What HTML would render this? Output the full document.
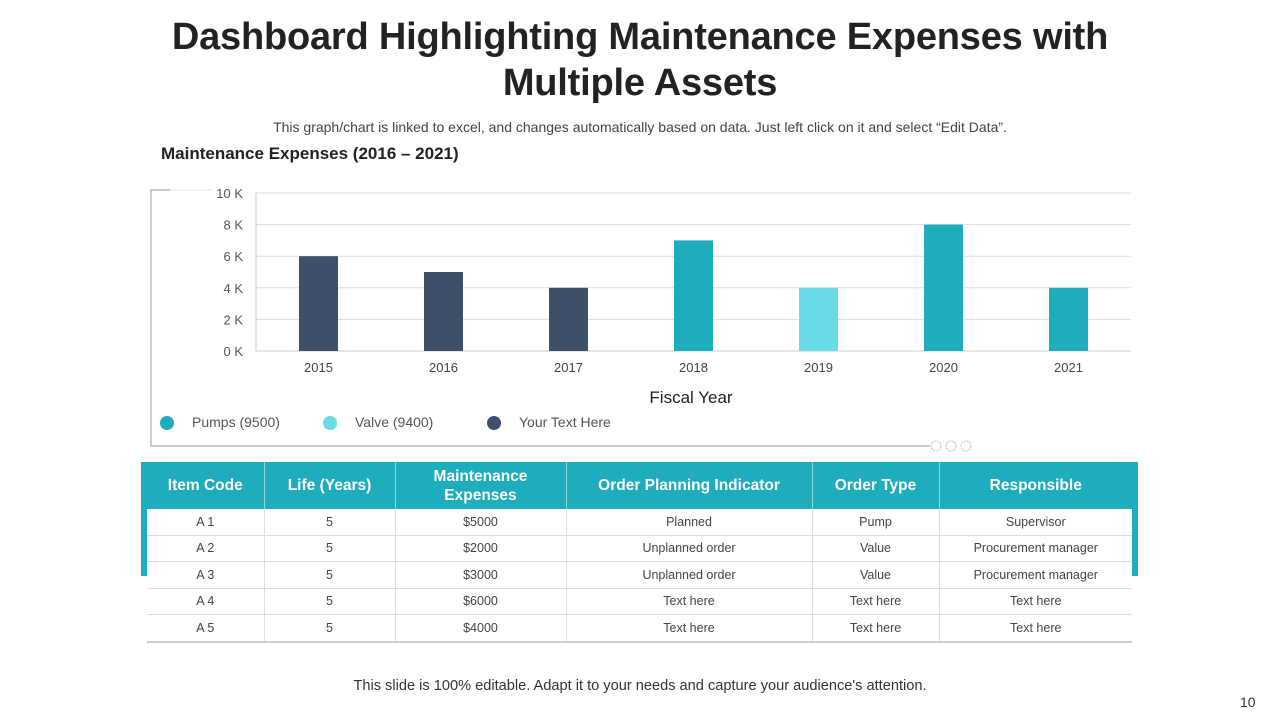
<!DOCTYPE html>
<html><head><meta charset="utf-8"><style>
body{margin:0;width:1280px;height:720px;background:#fff;font-family:"Liberation Sans",sans-serif;position:relative;overflow:hidden}
.t{position:absolute;left:0;width:1280px;text-align:center}
table{position:absolute;left:147px;top:462px;border-collapse:collapse;width:985px;font-size:12.5px;color:#444}
th{background:#1fadbd;color:#fff;font-size:15.5px;height:47px;padding:0 4px;border-left:1px solid #8fd6de;line-height:19px}
th:first-child{border-left:none}
td{text-align:center;height:25.5px;border-bottom:1px solid #ddd;border-left:1px solid #ddd;padding:0}
td:first-child{border-left:none}
tr:last-child td{border-bottom:2px solid #ccc}
</style></head><body>
<div class="t" style="top:14px;font-size:38px;font-weight:bold;color:#222;line-height:46px;letter-spacing:-0.2px">Dashboard Highlighting Maintenance Expenses with<br>Multiple Assets</div>
<div class="t" style="top:119px;font-size:14px;color:#444">This graph/chart is linked to excel, and changes automatically based on data. Just left click on it and select “Edit Data”.</div>
<div style="position:absolute;left:161px;top:144px;font-size:17px;font-weight:bold;color:#222">Maintenance Expenses (2016 – 2021)</div>
<svg id="chart" width="1280" height="460" style="position:absolute;left:0;top:0">
<path d="M170 190H151V446H930" fill="none" stroke="#aaa" stroke-width="1.2"/>
<line x1="170" y1="190" x2="212" y2="190" stroke="#ccc" stroke-dasharray="1,1"/>
<circle cx="936" cy="446" r="5" fill="#fff" stroke="#bbb" stroke-dasharray="2,1"/>
<circle cx="951" cy="446" r="5" fill="#fff" stroke="#bbb" stroke-dasharray="2,1"/>
<circle cx="966" cy="446" r="5" fill="#fff" stroke="#bbb" stroke-dasharray="2,1"/>
<g id="grid"></g><g id="bars"></g><g id="xl"></g>
<text x="691" y="403" text-anchor="middle" font-size="17" fill="#222">Fiscal Year</text>
<g font-size="14" fill="#555">
<circle cx="167" cy="423" r="7" fill="#1fadbd"/><text x="192" y="427">Pumps (9500)</text>
<circle cx="330" cy="423" r="7" fill="#67dbe6"/><text x="355" y="427">Valve  (9400)</text>
<circle cx="494" cy="423" r="7" fill="#3d5068"/><text x="519" y="427">Your Text Here</text>
</g>
</svg>
<script>
const years=["2015","2016","2017","2018","2019","2020","2021"];
const values=[6000,5000,4000,7000,4000,8000,4000];
const series=["dark","dark","dark","teal","light","teal","teal"];
const ticks=[0,2000,4000,6000,8000,10000];
const tickLabels=["0 K","2 K","4 K","6 K","8 K","10 K"];
const colors={dark:"#3d5068",teal:"#1fadbd",light:"#67dbe6"};
const ns="http://www.w3.org/2000/svg";
const x0=256,x1=1131,y0=351,y1=193,max=10000;
const ys=v=>y0-(v/max)*(y0-y1);
const bw=(x1-x0)/years.length;
const xs=i=>x0+bw*(i+0.5);
function mk(t,a,p){const e=document.createElementNS(ns,t);for(const k in a)e.setAttribute(k,a[k]);p.appendChild(e);return e;}
const g=document.getElementById('grid');
ticks.forEach((v,i)=>{
 const l=mk('line',{x1:x0,x2:x1,y1:ys(v),y2:ys(v),stroke:i?"#ddd":"#ccc"},g);
 
 
 const t=mk('text',{x:243,y:ys(v)+5,'text-anchor':'end','font-size':13,fill:'#555'},g);t.textContent=tickLabels[i];
 
 
});
mk('line',{x1:x0,x2:x0,y1:y1,y2:y0,stroke:'#ccc'},g);
const b=document.getElementById('bars'),xl=document.getElementById('xl');
years.forEach((y,i)=>{
 const r=mk('rect',{x:xs(i)-19.5,width:39,y:ys(values[i]),height:y0-ys(values[i]),fill:colors[series[i]]},b);
 
 
 const t=mk('text',{x:xs(i),y:372,'text-anchor':'middle','font-size':13,fill:'#444'},xl);t.textContent=y;
 
 
});
</script>
<div style="position:absolute;left:141px;top:462px;width:6px;height:114px;background:#1fadbd"></div>
<div style="position:absolute;left:1132px;top:462px;width:6px;height:114px;background:#1fadbd"></div>
<table>
<colgroup><col style="width:117px"><col style="width:131px"><col style="width:171px"><col style="width:246px"><col style="width:127px"><col></colgroup>
<tr><th>Item Code</th><th>Life (Years)</th><th>Maintenance<br>Expenses</th><th>Order Planning Indicator</th><th>Order Type</th><th>Responsible</th></tr>
<tr><td>A 1</td><td>5</td><td>$5000</td><td>Planned</td><td>Pump</td><td>Supervisor</td></tr>
<tr><td>A 2</td><td>5</td><td>$2000</td><td>Unplanned  order</td><td>Value</td><td>Procurement  manager</td></tr>
<tr><td>A 3</td><td>5</td><td>$3000</td><td>Unplanned  order</td><td>Value</td><td>Procurement  manager</td></tr>
<tr><td>A 4</td><td>5</td><td>$6000</td><td>Text here</td><td>Text here</td><td>Text here</td></tr>
<tr><td>A 5</td><td>5</td><td>$4000</td><td>Text here</td><td>Text here</td><td>Text here</td></tr>
</table>
<div class="t" style="top:678px;font-size:14.6px;color:#333">This slide is 100% editable. Adapt it to your needs and capture your audience's attention.</div>
<div style="position:absolute;left:1240px;top:694px;font-size:14px;color:#333">10</div>
</body></html>
